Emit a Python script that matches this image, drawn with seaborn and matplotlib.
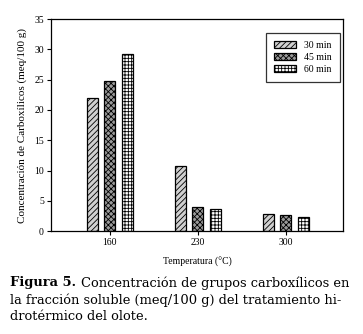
import matplotlib
matplotlib.use("Agg")
import matplotlib.pyplot as plt
import numpy as np
import pandas as pd
import seaborn as sns

temperatures = ["160", "230", "300"]
times = ["30 min", "45 min", "60 min"]
values_30 = [22.0, 10.7, 2.8]
values_45 = [24.7, 3.9, 2.6]
values_60 = [29.2, 3.6, 2.4]

face_colors = ["#d0d0d0", "#9a9a9a", "#ffffff"]
hatches = ["//////", "xxxxxx", "+++++"]

df = pd.DataFrame({
    "Temperatura": temperatures * 3,
    "Tiempo": [t for t in times for _ in temperatures],
    "Valor": values_30 + values_45 + values_60,
})

sns.set_style("ticks")
plt.rcParams["font.family"] = ["Liberation Serif", "DejaVu Serif"]
plt.rcParams["hatch.linewidth"] = 0.6
plt.rcParams["text.color"] = "black"
plt.rcParams["xtick.color"] = "black"
plt.rcParams["ytick.color"] = "black"
plt.rcParams["axes.labelcolor"] = "black"

fig = plt.figure(figsize=(3.63, 3.34), dpi=100)
ax = fig.add_axes([0.140, 0.308, 0.805, 0.635])

sns.barplot(data=df, x="Temperatura", y="Valor", hue="Tiempo",
            order=temperatures, hue_order=times, palette=face_colors,
            width=0.6, gap=0.375, edgecolor="black", linewidth=0.9,
            saturation=1, ax=ax)

for container, hatch in zip(ax.containers, hatches):
    for bar in container:
        bar.set_hatch(hatch)

ax.set_xlim(-0.67, 2.65)
ax.set_ylim(0, 35)
ax.set_yticks(np.arange(0, 36, 5))
for side in ["top", "right", "left", "bottom"]:
    ax.spines[side].set_visible(True)
    ax.spines[side].set_linewidth(0.9)
    ax.spines[side].set_color("black")
ax.tick_params(axis="both", labelsize=7, length=3, width=0.8, pad=2)

ax.set_xlabel("Temperatura (°C)", fontsize=7, labelpad=7)
ax.set_ylabel("Concentración de Carboxílicos (meq/100 g)", fontsize=8, labelpad=5)

leg = ax.legend(loc="upper right", bbox_to_anchor=(0.988, 0.932), fontsize=7,
                frameon=True, fancybox=False, edgecolor="black",
                handlelength=2.3, handleheight=0.7, borderpad=0.8,
                labelspacing=0.3, handletextpad=0.8, borderaxespad=0)
leg.get_frame().set_linewidth(0.9)
for handle, hatch, color in zip(leg.legend_handles, hatches, face_colors):
    handle.set_hatch(hatch)
    handle.set_facecolor(color)
    handle.set_edgecolor("black")

caption_font = ["DejaVu Serif"]
caption_size = 9.4
fig.text(0.028, 0.153, "Figura 5.", fontsize=caption_size, fontweight="bold",
         family=caption_font, va="center")
fig.text(0.222, 0.153, "Concentración de grupos carboxílicos en",
         fontsize=caption_size, family=caption_font, va="center")
fig.text(0.028, 0.102, "la fracción soluble (meq/100 g) del tratamiento hi-",
         fontsize=caption_size, family=caption_font, va="center")
fig.text(0.028, 0.051, "drotérmico del olote.",
         fontsize=caption_size, family=caption_font, va="center")

fig.savefig("out.png", dpi=100)
